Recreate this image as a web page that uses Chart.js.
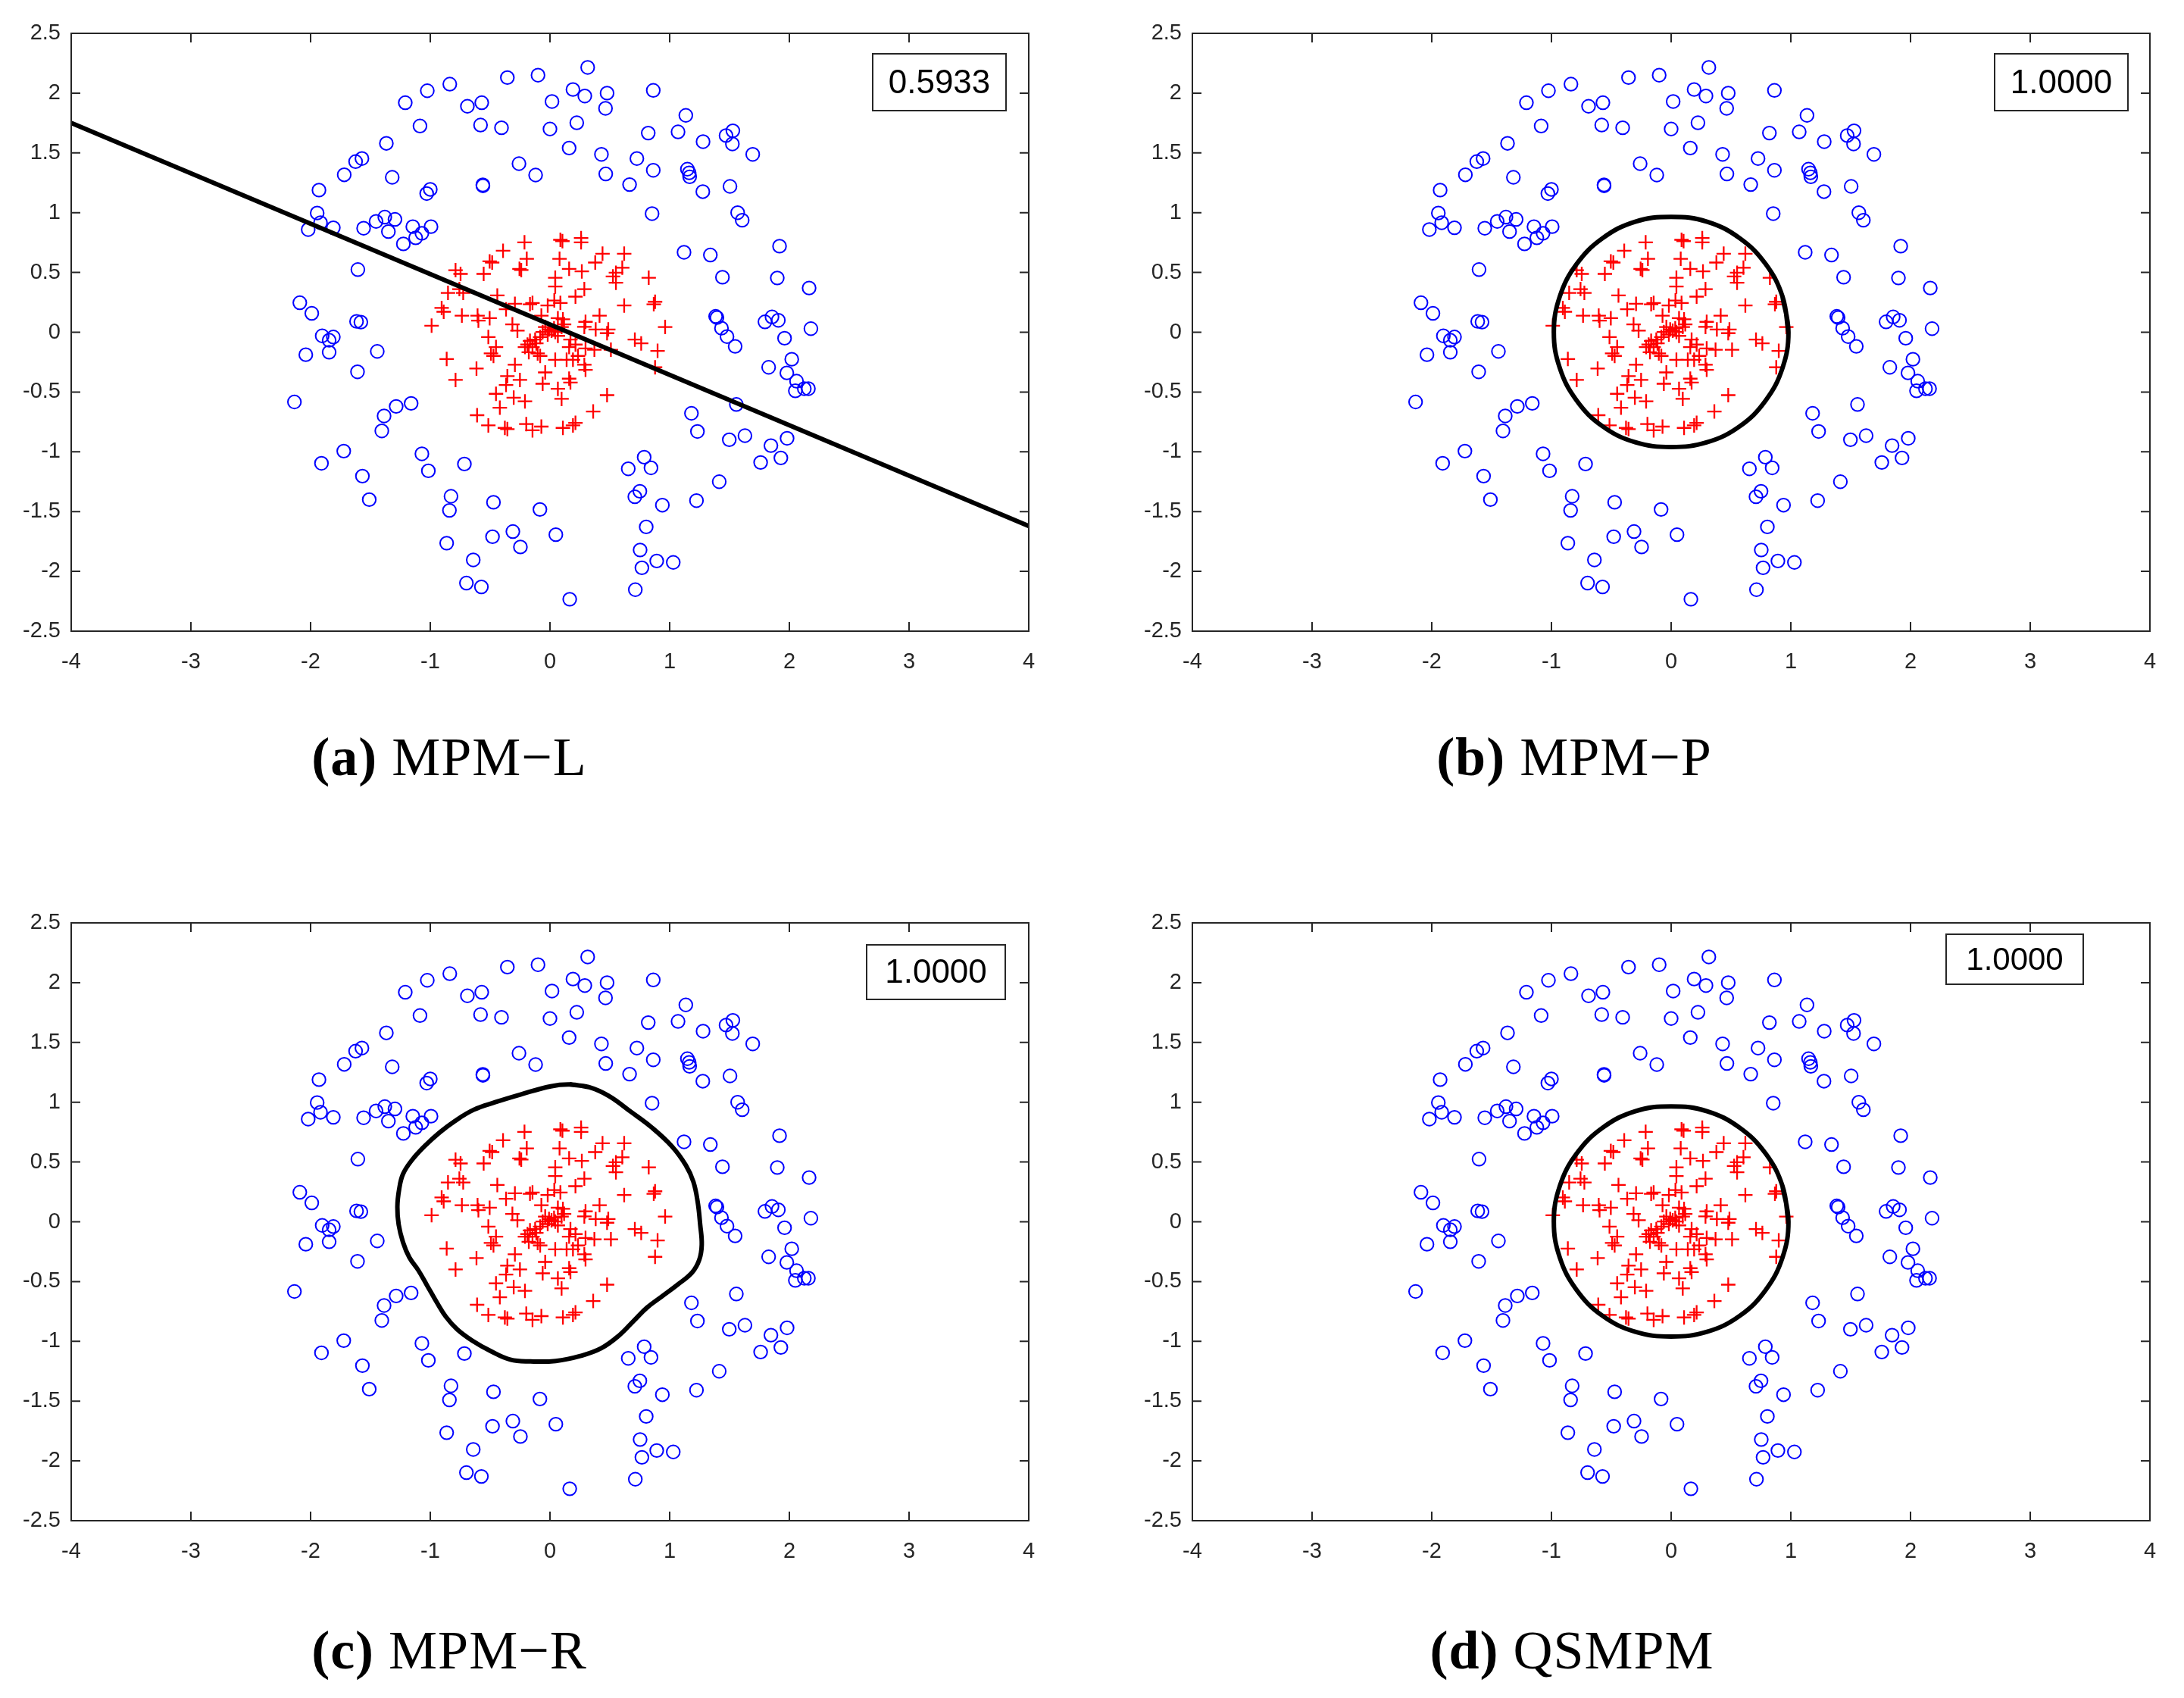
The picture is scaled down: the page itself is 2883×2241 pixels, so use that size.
<!DOCTYPE html>
<html>
<head>
<meta charset="utf-8">
<script src="https://cdn.jsdelivr.net/npm/chart.js@4.4.0/dist/chart.umd.min.js"></script>
<style>
html, body { margin: 0; padding: 0; background: #fff; }
body { width: 2883px; height: 2241px; position: relative; overflow: hidden; }
canvas { position: absolute; }
.cap {
    position: absolute; width: 800px; text-align: center;
    font-family: "Liberation Serif", "Times New Roman", serif;
    font-size: 72px; line-height: 72px; color: #000; white-space: nowrap; letter-spacing: 1px;
}
</style>
</head>
<body>
<canvas id="chartA" width="1420" height="930" style="left:0;top:0"></canvas>
<canvas id="chartB" width="1403" height="930" style="left:1480px;top:0"></canvas>
<canvas id="chartC" width="1420" height="930" style="left:0;top:1174px"></canvas>
<canvas id="chartD" width="1403" height="930" style="left:1480px;top:1174px"></canvas>
<div class="cap" style="left:193px;top:963px"><b>(a)</b> MPM−L</div>
<div class="cap" style="left:1678px;top:963px"><b>(b)</b> MPM−P</div>
<div class="cap" style="left:193px;top:2142px"><b>(c)</b> MPM−R</div>
<div class="cap" style="left:1675px;top:2142px"><b>(d)</b> QSMPM</div>
<script>
// ticks
const xTicks = [-4, -3, -2, -1, 0, 1, 2, 3, 4];
const yTicks = [-2.5, -2, -1.5, -1, -0.5, 0, 0.5, 1, 1.5, 2, 2.5];

// class 1 (blue circles, outer ring)
const blueX = [-0.356, -0.10, 0.017, 0.0, -0.837, -1.025, -1.209, -0.69, -0.57, -1.086,
    -0.58, -0.405, -1.367, -1.571, -1.624, -1.719, -1.318, -0.259, -0.12, -1.0,
    -1.03, -0.561, -0.56, -1.93, -1.945, -1.917, -2.02, -1.81, -1.557, -1.453,
    -1.38, -1.295, -1.35, -1.146, -0.994, -1.07, -1.122, -1.225, -1.605, -2.09,
    -1.99, -1.616, -1.58, -1.903, -1.81, -1.845, -2.04, -1.845, -1.443, -1.608,
    -2.135, -1.285, -1.16, -1.386, -1.405, -1.723, -1.909, -1.567, -1.51, -1.07,
    -1.016, -0.715, -0.827, -0.84, -0.472, -0.084, 0.049, -0.31, -0.247, -0.48,
    -0.863, -0.641, -0.698, -0.573, 0.315, 0.192, 0.291, 0.477, 0.464, 0.863,
    0.224, 0.16, 0.43, 0.466, 0.821, 0.726, 0.863, 0.665, 1.135, 1.07,
    1.279, 1.471, 1.528, 1.524, 1.694, 1.148, 1.163, 1.167, 1.277, 1.504,
    0.853, 1.568, 1.606, 1.918, 1.12, 1.34, 1.441, 1.899, 2.165, 1.384,
    1.395, 1.796, 1.855, 1.908, 2.18, 1.433, 1.479, 1.547, 1.96, 2.02,
    1.827, 1.979, 2.06, 2.05, 2.125, 2.159, 1.557, 1.182, 1.232, 1.498,
    1.629, 1.981, 1.846, 1.929, 1.76, 0.787, 0.654, 0.844, 0.751, 0.709,
    0.939, 1.224, 1.414, 0.804, 0.753, 0.892, 1.03, 0.768, 0.713, 0.165];
const blueY = [2.13, 2.15, 1.93, 1.70, 2.075, 2.02, 1.92, 1.89, 1.92, 1.725,
    1.733, 1.71, 1.58, 1.453, 1.427, 1.317, 1.296, 1.41, 1.315, 1.195,
    1.16, 1.233, 1.225, 1.189, 0.997, 0.916, 0.859, 0.874, 0.87, 0.927,
    0.963, 0.944, 0.842, 0.883, 0.883, 0.828, 0.79, 0.739, 0.524, 0.247,
    0.158, 0.091, 0.085, -0.03, -0.04, -0.067, -0.188, -0.167, -0.16, -0.331,
    -0.583, -0.62, -0.595, -0.70, -0.825, -0.994, -1.096, -1.203, -1.40, -1.017,
    -1.159, -1.102, -1.372, -1.49, -1.422, -1.482, -1.693, -1.667, -1.796, -1.71,
    -1.764, -1.904, -2.098, -2.13, 2.215, 2.03, 1.976, 2.0, 1.873, 2.023,
    1.752, 1.541, 1.488, 1.324, 1.666, 1.453, 1.355, 1.235, 1.814, 1.676,
    1.594, 1.645, 1.685, 1.575, 1.488, 1.364, 1.333, 1.30, 1.176, 1.22,
    0.992, 1.0, 0.937, 0.72, 0.669, 0.646, 0.46, 0.454, 0.37, 0.133,
    0.123, 0.087, 0.128, 0.10, 0.03, 0.034, -0.036, -0.118, -0.05, -0.226,
    -0.293, -0.34, -0.409, -0.49, -0.472, -0.472, -0.604, -0.678, -0.83, -0.899,
    -0.865, -0.887, -0.948, -1.051, -1.089, -1.045, -1.142, -1.134, -1.33, -1.376,
    -1.446, -1.408, -1.25, -1.628, -1.821, -1.913, -1.925, -1.97, -2.153, -2.233];

// class 2 (red pluses, inner disc)
const redX = [-0.213, 0.087, 0.104, 0.26, 0.26, -0.392, -0.504, -0.483, -0.194, -0.255,
    -0.24, -0.554, -0.789, -0.747, 0.08, 0.16, 0.266, 0.439, 0.378, 0.62,
    0.604, 0.551, 0.526, 0.551, 0.825, 0.044, 0.044, 0.287, 0.213, -0.852,
    -0.757, -0.725, -0.44, 0.036, 0.087, -0.146, -0.167, -0.293, -0.019, -0.367,
    0.62, 0.867, 0.878, -0.905, -0.888, -0.736, -0.605, -0.598, -0.504, -0.072,
    0.108, 0.066, 0.297, 0.414, -0.314, -0.272, -0.989, 0.962, 0.287, 0.382,
    0.487, 0.477, -0.04, -0.008, 0.013, 0.034, -0.061, -0.019, 0.044, 0.097,
    0.118, 0.066, -0.082, -0.124, -0.167, -0.188, -0.146, -0.114, -0.209, -0.103,
    -0.082, -0.177, 0.171, 0.213, 0.16, 0.297, 0.371, 0.509, 0.709, 0.762,
    0.899, 0.878, -0.515, -0.451, -0.493, -0.472, -0.863, -0.789, -0.614, -0.293,
    -0.356, -0.251, -0.367, -0.451, -0.303, -0.419, -0.209, -0.04, -0.061, 0.044,
    0.139, 0.192, 0.234, 0.287, 0.297, 0.16, 0.171, 0.066, 0.097, 0.477,
    0.361, -0.609, -0.515, -0.377, -0.356, -0.198, -0.146, -0.072, 0.108, 0.192,
    0.213];
const redY = [0.752, 0.773, 0.762, 0.788, 0.752, 0.682, 0.593, 0.583, 0.614, 0.53,
    0.52, 0.488, 0.519, 0.488, 0.614, 0.53, 0.509, 0.657, 0.583, 0.657,
    0.54, 0.498, 0.467, 0.414, 0.456, 0.456, 0.382, 0.361, 0.298, 0.329,
    0.361, 0.329, 0.308, 0.266, 0.245, 0.245, 0.234, 0.238, 0.224, 0.192,
    0.224, 0.234, 0.255, 0.203, 0.171, 0.139, 0.139, 0.097, 0.118, 0.139,
    0.108, 0.118, 0.087, 0.139, 0.066, 0.013, 0.055, 0.044, 0.045, 0.023,
    0.023, -0.008, 0.044, 0.023, 0.013, 0.034, 0.002, -0.019, 0.002, 0.044,
    0.066, -0.03, -0.04, -0.061, -0.072, -0.103, -0.124, -0.093, -0.124, -0.177,
    -0.198, -0.167, -0.061, -0.103, -0.124, -0.135, -0.146, -0.146, -0.061, -0.093,
    -0.156, -0.293, -0.04, -0.124, -0.177, -0.198, -0.224, -0.399, -0.304, -0.272,
    -0.367, -0.399, -0.441, -0.515, -0.547, -0.631, -0.578, -0.336, -0.431, -0.23,
    -0.23, -0.23, -0.198, -0.272, -0.314, -0.388, -0.42, -0.473, -0.557, -0.526,
    -0.663, -0.694, -0.779, -0.80, -0.81, -0.768, -0.82, -0.789, -0.8, -0.779,
    -0.758];

// boundaries
const lineX = [-4, 4];
const lineY = [1.75, -1.62];
const circleX = [0.98, 0.93, 0.79, 0.575, 0.30, 0.0, -0.30, -0.575, -0.79, -0.93, -0.98,
    -0.93, -0.79, -0.575, -0.30, 0.0, 0.30, 0.575, 0.79, 0.93, 0.98, 0.93];
const circleY = [0.0, 0.30, 0.57, 0.785, 0.925, 0.965, 0.925, 0.785, 0.57, 0.30, 0.0,
    -0.30, -0.57, -0.785, -0.92, -0.96, -0.92, -0.785, -0.57, -0.30, 0.0, 0.30];
const blobX = [0.165, 0.323, 0.491, 0.681, 0.85, 1.019, 1.135, 1.198, 1.234, 1.255,
    1.268, 1.247, 1.187, 1.061, 0.934, 0.808, 0.702, 0.576, 0.428, 0.259,
    0.048, -0.163, -0.332, -0.5, -0.648, -0.775, -0.87, -0.943, -1.028, -1.101,
    -1.175, -1.228, -1.264, -1.275, -1.26, -1.228, -1.154, -1.049, -0.922, -0.796,
    -0.637, -0.458, -0.247, 0.006, 0.165, 0.323];
const blobY = [1.148, 1.127, 1.053, 0.916, 0.789, 0.631, 0.473, 0.335, 0.166, -0.024,
    -0.192, -0.319, -0.425, -0.53, -0.625, -0.72, -0.826, -0.952, -1.058, -1.121,
    -1.164, -1.168, -1.153, -1.079, -0.995, -0.90, -0.794, -0.678, -0.53, -0.404,
    -0.298, -0.171, -0.024, 0.124, 0.272, 0.399, 0.515, 0.631, 0.747, 0.842,
    0.937, 1.0, 1.064, 1.133, 1.148, 1.127];

const scores = ['0.5933', '1.0000', '1.0000', '1.0000'];

const tickFont = { family: '"Liberation Sans", Arial, sans-serif', size: 29 };

function pts(xs, ys) {
    return xs.map(function (x, i) { return { x: x, y: ys[i] }; });
}

/*** frame, inward ticks and score box ***/
const axesBox = {
    id: 'axesBox',
    afterDatasetsDraw(chart, args, o) {
        const ctx = chart.ctx;
        const a = chart.chartArea;
        const sx = chart.scales.x, sy = chart.scales.y;
        ctx.save();
        ctx.strokeStyle = '#262626';
        ctx.lineWidth = 2;
        ctx.beginPath();
        sx.ticks.forEach(function (t) {
            const px = sx.getPixelForValue(t.value);
            ctx.moveTo(px, a.bottom); ctx.lineTo(px, a.bottom - 12);
            ctx.moveTo(px, a.top); ctx.lineTo(px, a.top + 12);
        });
        sy.ticks.forEach(function (t) {
            const py = sy.getPixelForValue(t.value);
            ctx.moveTo(a.left, py); ctx.lineTo(a.left + 12, py);
            ctx.moveTo(a.right, py); ctx.lineTo(a.right - 12, py);
        });
        ctx.stroke();
        ctx.strokeRect(a.left, a.top, a.right - a.left, a.bottom - a.top);

        const bx = a.right - o.right - o.w, by = a.top + o.top;
        ctx.fillStyle = '#fff';
        ctx.fillRect(bx, by, o.w, o.h);
        ctx.strokeRect(bx, by, o.w, o.h);
        ctx.fillStyle = '#000';
        ctx.font = o.size + 'px "Liberation Sans", Arial, sans-serif';
        ctx.textAlign = 'center';
        ctx.textBaseline = 'middle';
        ctx.fillText(o.text, bx + o.w / 2, by + o.h / 2 + 2);
        ctx.restore();
    }
};

function renderPanel(el, bx, by, tension, padRight, box) {
    new Chart(document.getElementById(el).getContext('2d'), {
        type: 'scatter',
        data: {
            datasets: [
                {
                    data: pts(bx, by),
                    showLine: true,
                    borderColor: '#000000',
                    borderWidth: 6,
                    pointRadius: 0,
                    tension: tension,
                    fill: false
                },
                {
                    data: pts(redX, redY),
                    pointStyle: 'cross',
                    pointRadius: 9.5,
                    pointBorderWidth: 2.3,
                    pointBorderColor: '#ff0000',
                    borderColor: '#ff0000'
                },
                {
                    data: pts(blueX, blueY),
                    pointStyle: 'circle',
                    pointRadius: 8.7,
                    pointBorderWidth: 2,
                    pointBorderColor: '#0000ff',
                    pointBackgroundColor: 'rgba(0,0,0,0)'
                }
            ]
        },
        options: {
            responsive: false,
            animation: false,
            devicePixelRatio: 1,
            layout: { padding: { top: 44, right: padRight, left: 0, bottom: 0 } },
            plugins: {
                legend: { display: false },
                tooltip: { enabled: false },
                axesBox: box
            },
            scales: {
                x: {
                    type: 'linear', min: -4, max: 4,
                    afterBuildTicks: function (s) { s.ticks = xTicks.map(function (v) { return { value: v }; }); },
                    afterFit: function (s) { s.height = 97; },
                    grid: { display: false, drawTicks: false },
                    border: { display: false },
                    ticks: { padding: 24, font: tickFont, color: '#262626', autoSkip: false, maxRotation: 0,
                        callback: function (v) { return String(v); } }
                },
                y: {
                    type: 'linear', min: -2.5, max: 2.5,
                    afterBuildTicks: function (s) { s.ticks = yTicks.map(function (v) { return { value: v }; }); },
                    afterFit: function (s) { s.width = 94; },
                    grid: { display: false, drawTicks: false },
                    border: { display: false },
                    ticks: { padding: 14, font: tickFont, color: '#262626', autoSkip: false,
                        callback: function (v) { return String(v); } }
                }
            }
        },
        plugins: [axesBox]
    });
}

renderPanel('chartA', lineX, lineY, 0, 62, { text: scores[0], right: 30, top: 27, w: 176, h: 75, size: 44 });
renderPanel('chartB', circleX, circleY, 0.4, 45, { text: scores[1], right: 29, top: 27, w: 176, h: 75, size: 44 });
renderPanel('chartC', blobX, blobY, 0.4, 62, { text: scores[2], right: 31, top: 29, w: 183, h: 72, size: 44 });
renderPanel('chartD', circleX, circleY, 0.4, 45, { text: scores[3], right: 88, top: 15, w: 181, h: 66, size: 42 });
</script>
</body>
</html>
